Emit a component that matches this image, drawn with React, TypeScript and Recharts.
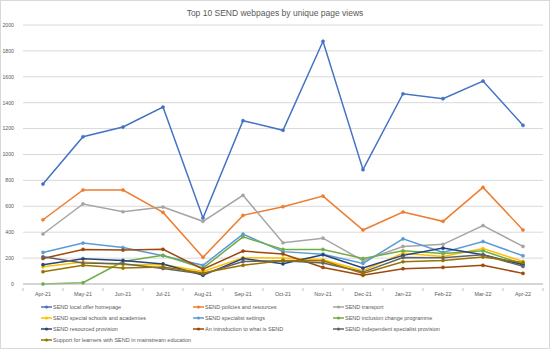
import { CartesianGrid, Line, LineChart, XAxis, YAxis } from "recharts";

const months = [
  "Apr-21", "May-21", "Jun-21", "Jul-21", "Aug-21", "Sep-21", "Oct-21",
  "Nov-21", "Dec-21", "Jan-22", "Feb-22", "Mar-22", "Apr-22",
];

const localOffer = [772, 1137, 1212, 1366, 510, 1261, 1187, 1874, 883, 1469, 1431, 1567, 1225];
const policies = [496, 726, 726, 553, 206, 530, 597, 679, 417, 556, 484, 746, 417];
const transport = [386, 618, 558, 594, 484, 685, 318, 354, 180, 290, 306, 451, 290];
const specialSchools = [133, 169, 149, 150, 97, 203, 200, 187, 103, 238, 213, 274, 174];
const specialistSettings = [244, 316, 282, 218, 144, 385, 250, 230, 159, 349, 244, 328, 218];
const inclusionChange = [0, 10, 174, 221, 123, 364, 267, 267, 197, 256, 236, 256, 154];
const resourced = [149, 195, 182, 155, 67, 197, 156, 226, 123, 221, 277, 226, 149];
const intro = [197, 267, 262, 268, 115, 254, 232, 128, 67, 118, 128, 144, 82];
const independent = [210, 162, 156, 120, 77, 174, 180, 162, 92, 205, 203, 226, 136];
const supportLearners = [95, 144, 123, 131, 85, 144, 182, 180, 82, 172, 182, 208, 167];

const yTicks = [0, 200, 400, 600, 800, 1000, 1200, 1400, 1600, 1800, 2000];

const series = [
  { key: "s1", name: "SEND local offer homepage", values: localOffer, color: "#4472C4" },
  { key: "s2", name: "SEND policies and resources", values: policies, color: "#ED7D31" },
  { key: "s3", name: "SEND transport", values: transport, color: "#A5A5A5" },
  { key: "s4", name: "SEND special schools and academies", values: specialSchools, color: "#FFC000" },
  { key: "s5", name: "SEND specialist settings", values: specialistSettings, color: "#5B9BD5" },
  { key: "s6", name: "SEND inclusion change programme", values: inclusionChange, color: "#70AD47" },
  { key: "s7", name: "SEND resourced provision", values: resourced, color: "#264478" },
  { key: "s8", name: "An introduction to what is SEND", values: intro, color: "#9E480E" },
  { key: "s9", name: "SEND independent specialist provision", values: independent, color: "#636363" },
  { key: "s10", name: "Support for learners with SEND in mainstream education", values: supportLearners, color: "#997300" },
];

const data = months.map((month, i) => {
  const row: Record<string, string | number> = { month };
  series.forEach((s) => {
    row[s.key] = s.values[i];
  });
  return row;
});

const font = "'Liberation Sans', Arial, sans-serif";
const textColor = "#595959";
const legendCols = [41, 193, 333];
const legendRows = [306, 317, 328, 339];

// x tick label plus the small Excel-style tick mark between categories
function MonthTick(props: any) {
  const { x, y, payload } = props;
  return (
    <g>
      <line x1={x - 20} y1={y - 2} x2={x - 20} y2={y + 1} stroke="#bfbfbf" />
      {payload.index === months.length - 1 && (
        <line x1={x + 20} y1={y - 2} x2={x + 20} y2={y + 1} stroke="#bfbfbf" />
      )}
      <text
        x={x}
        y={y + 6}
        textAnchor="middle"
        fill={textColor}
        fontSize={5.4}
        fontFamily={font}
      >
        {payload.value}
      </text>
    </g>
  );
}

export default function App() {
  return (
    <div
      style={{
        position: "relative",
        width: 550,
        height: 349,
        boxSizing: "border-box",
        border: "1px solid #d9d9d9",
        background: "#fff",
        fontFamily: font,
      }}
    >
      <style>{"body{margin:0}"}</style>
      <div
        style={{
          position: "absolute",
          top: 7,
          left: 0,
          width: "100%",
          textAlign: "center",
          fontSize: 8.5,
          color: textColor,
        }}
      >
        Top 10 SEND webpages by unique page views
      </div>

      <div style={{ position: "absolute", left: -1, top: -1 }}>
        <LineChart
          width={550}
          height={349}
          data={data}
          margin={{ top: 25, right: 7, left: 2, bottom: 53 }}
        >
          <CartesianGrid stroke="#d9d9d9" vertical={false} />
          <XAxis
            dataKey="month"
            padding={{ left: 20, right: 20 }}
            axisLine={{ stroke: "#bfbfbf" }}
            tickLine={false}
            height={12}
            tick={<MonthTick />}
            tickMargin={0}
            interval={0}
          />
          <YAxis
            width={21}
            domain={[0, 2000]}
            ticks={yTicks}
            axisLine={false}
            tickLine={false}
            tick={{ fill: textColor, fontSize: 5.2, fontFamily: font }}
            tickMargin={3}
          />
          {series.map((s) => (
            <Line
              key={s.key}
              dataKey={s.key}
              name={s.name}
              stroke={s.color}
              strokeWidth={1.5}
              dot={{ r: 1.6, fill: s.color, stroke: s.color, strokeWidth: 0.5 }}
              isAnimationActive={false}
            />
          ))}
        </LineChart>
      </div>

      {series.map((s, i) => {
        const col = i % 3;
        const row = Math.floor(i / 3);
        return (
          <div
            key={s.key}
            style={{
              position: "absolute",
              left: legendCols[col] - 1,
              top: legendRows[row] - 5,
              height: 10,
              display: "flex",
              alignItems: "center",
              gap: 1,
              fontSize: 5.5,
              color: textColor,
              whiteSpace: "nowrap",
            }}
          >
            <svg width={11} height={6}>
              <line x1={0} y1={3} x2={11} y2={3} stroke={s.color} strokeWidth={1.5} />
              <circle cx={5.5} cy={3} r={1.6} fill={s.color} />
            </svg>
            <span>{s.name}</span>
          </div>
        );
      })}
    </div>
  );
}
